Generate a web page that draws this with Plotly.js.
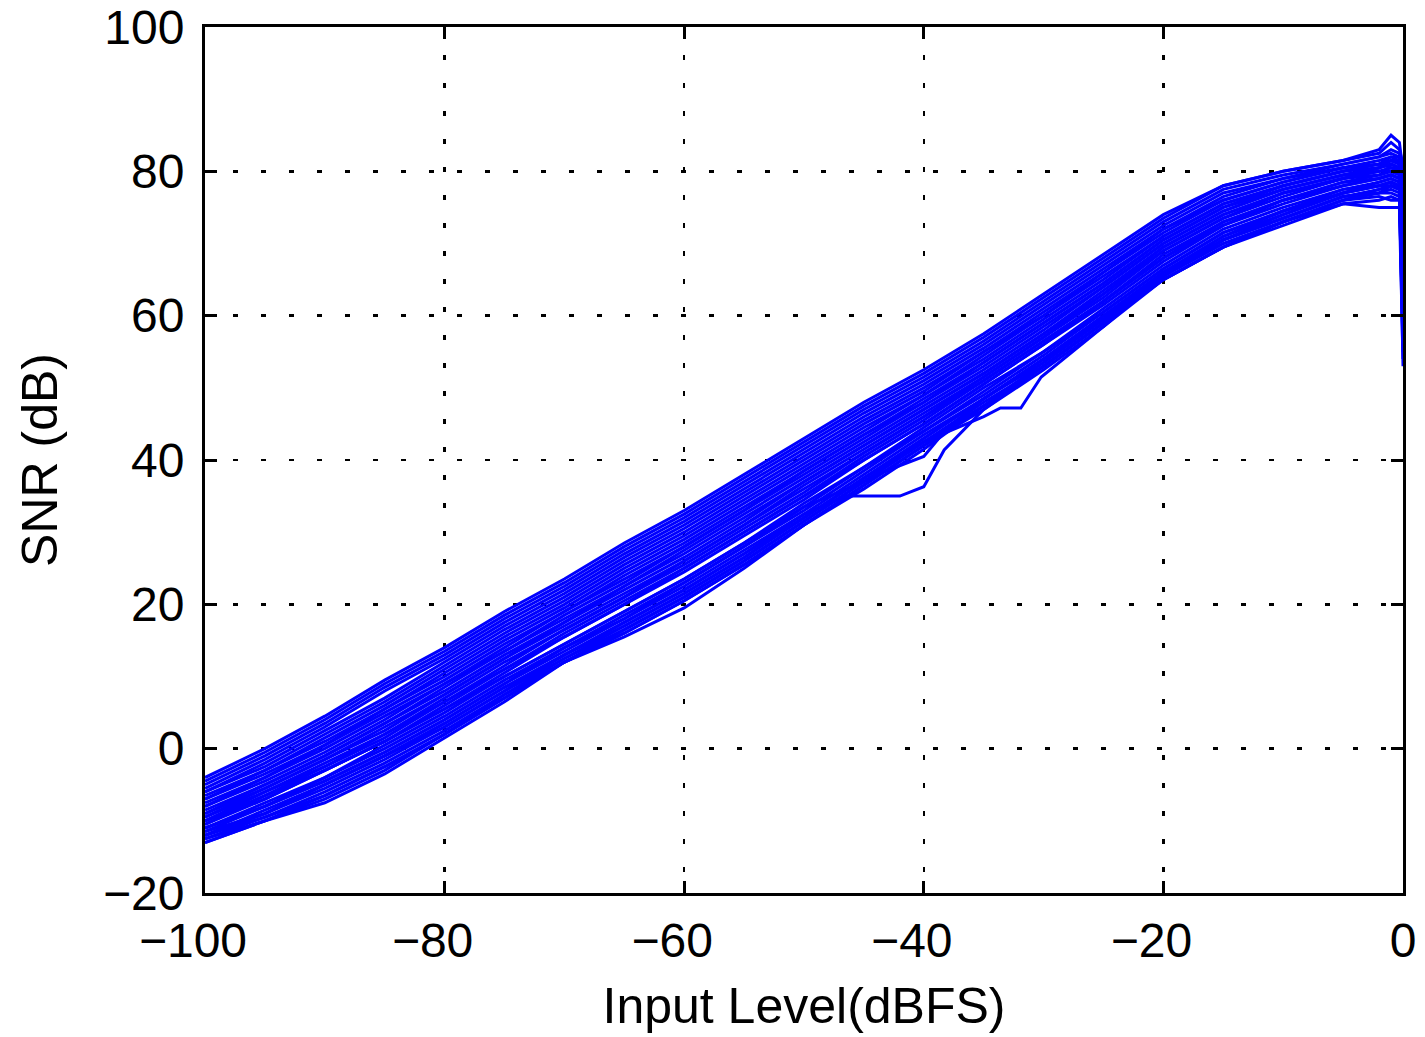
<!DOCTYPE html>
<html>
<head>
<meta charset="utf-8">
<script src="https://cdn.plot.ly/plotly-3.0.1.min.js"></script>
<style>
html,body{margin:0;padding:0;background:#fff;}
#chart{width:1425px;height:1037px;}
</style>
</head>
<body>
<div id="chart"></div>
<script>
// Input level grid (dBFS)
const xGrid = [-100,-95,-90,-85,-80,-75,-70,-65,-60,-55,-50,-45,-40,-35,-30,-25,-20,-15,-10,-5,-2,-1,-0.3,0];

// Axis ticks
const xTickVals = [-100,-80,-60,-40,-20,0];
const xTickText = ['\u2212100','\u221280','\u221260','\u221240','\u221220','0'];

// SNR (dB) curves, one per measured channel
const snr01 = [-4,0,4.5,9.5,14,19,23.5,28.5,33,38,43,48,52.5,57.5,63,68.5,74,78,80,81.5,83,85,84,80];
const snr02 = [-5,-1,3.5,8.5,13,18,22.5,27.5,32,37,42,47,51.5,56.5,62,67.5,73,77.5,79.5,81,82,83,82.5,78];
const snr03 = [-6,-2,2.5,7,12,17,21.5,26.5,31,36,41,46,50.5,55.5,61,66.5,72,76.5,79,80.5,81.5,82,82,70];
const snr04 = [-6.5,-3,1.5,6,11,16,20.5,25.5,30,35,40,45,49.5,55,60,66,71.5,76,78.5,80.5,81,81.5,81,62];
const snr05 = [-7,-3.5,0.5,5.5,10,15,19.5,24.5,29,34,39,44,49,54,59.5,65,71,75.5,78,80,80.5,81,80.5,75];
const snr06 = [-8,-4,0,4.5,9,14,19,23.5,28,33,38.5,43.5,48,53.5,59,64.5,70.5,75,78,80,81,82,81.5,58];
const snr07 = [-8.5,-5,-1,3.5,8.5,13.5,18,22.5,27.5,32.5,37.5,42.5,47.5,52.5,58,64,70,74.5,77.5,79.5,80,80.5,80,66];
const snr08 = [-9,-5.5,-1.5,3,7.5,12.5,17.5,22,26.5,31.5,37,42,47,52,57.5,63,69.5,74,77,79,80.5,81,80.5,72];
const snr09 = [-9.5,-6,-2,2,7,12,16.5,21,26,31,36,41,46,51.5,57,62.5,69,73.5,76.5,79,79.5,80,79.5,55];
const snr10 = [-10,-6.5,-2.5,1.5,6.5,11,16,20.5,25,30,35,40.5,45.5,51,56.5,62,68,73,76,78.5,79.5,80,80,68];
const snr11 = [-10.5,-7,-3,1,5.5,10.5,15.5,20,24.5,29.5,34.5,40,45,50.5,56,61.5,67.5,72.5,75.5,78,79,79.5,79,60];
const snr12 = [-11,-7.5,-4,0.5,5,10,14.5,19,23.5,28.5,34,39,44.5,50,55,61,67,72,75,77.5,78.5,79,78.5,64];
const snr13 = [-11.5,-8,-4.5,-0.5,4,9,14,18,23,28,33,38.5,44,49,54.5,60.5,66.5,71.5,74.5,77,78,78.5,78,53];
const snr14 = [-12,-8.5,-5,-1,3.5,8.5,13,17.5,22,27,32.5,38,43.5,48.5,54,60,66,71,74,77,78,78,77.5,70];
const snr15 = [-12,-9,-5.5,-1.5,3,8,12.5,17,21.5,26.5,32,37.5,43,48.5,53.5,59.5,65.5,70.5,73.5,76.5,77,77.5,77,57];
const snr16 = [-12.5,-9.5,-6,-2,2.5,7.5,12,16.5,21,26,31.5,37,42.5,48,53,59,65.5,70,73,76,77.5,78,77.5,62];
const snr17 = [-13,-10,-7,-3,2,7,12,16,20.5,25.5,31,36,41.5,47.5,53,59,65,69.5,73,76,76.5,76,76,66];
const snr18 = [-12.5,-10,-7.5,-3.5,1.5,6.5,12,15.5,19.5,25,31,36.5,42,47,52.5,58.5,65,69.5,72.5,75.5,75,75,75,54];
const snr19 = [-4.5,-0.5,4,9,13.5,18.5,23,28,32.5,37.5,42.5,47.5,52,57,62.5,68,73.5,78,80,81.5,82.5,84,83,81];
const snr20 = [-5.5,-1.5,3,8,12.5,17.5,22,27,31.5,36.5,41.5,46.5,51,56,61.5,67,72.5,77,79,81,82,82.5,82,74];
const snr21 = [-6,-2.5,2,6.5,11.5,16.5,21,26,30.5,35.5,40.5,45.5,50,55,60.5,66,72,76,78.5,80.5,81,81.5,81.5,67];
const snr22 = [-7,-3,1,5.5,10.5,15.5,20,25,29.5,34.5,39.5,44.5,49,54.5,60,65.5,71,75.5,78,80,81,80.5,80.5,79];
const snr23 = [-7.5,-4,0.5,5,9.5,14.5,19,24,28.5,33.5,38.5,43.5,48.5,53.5,59,64.5,70.5,75,77.5,79.5,80.5,81.5,81,63];
const snr24 = [-8,-4.5,-0.5,4,9,13.5,18.5,23,28,33,38,43,48,53,58.5,64,70,74.5,77.5,79.5,80.5,81,80.5,71];
const snr25 = [-9,-5,-1,3.5,8,13,17.5,22.5,27,32,37,42,47,52,57.5,63.5,69.5,74,77,79,80,80,79.5,57];
const snr26 = [-9.5,-5.5,-1.5,2.5,7.5,12.5,17,21.5,26,31,36.5,41.5,46.5,51.5,57,63,69,73.5,77,79,80,80.5,80,76];
const snr27 = [-10,-6,-2.5,2,6.5,11.5,16.5,21,25.5,30.5,35.5,41,46,51,56.5,62,68.5,73,76,78.5,79,79.5,79,61];
const snr28 = [-10.5,-6.5,-3,1,6,11,15.5,20,25,30,35,40,45,50.5,56,62,68,72.5,76,78,79,79.5,79,73];
const snr29 = [-11,-8,-4,0,4.5,9.5,14,18.5,23,28,33.5,39,44,49.5,55,60.5,66.5,71.5,74.5,77.5,78,78.5,78,67];
const snr30 = [-12,-9,-5,-1,3,8,13,17,21.5,26.5,32,37.5,43,48.5,54,59.5,66,70.5,73.5,76.5,77,78,77.5,59];
const snr31 = [-13,-10,-6.5,-2.5,2,7,12,16,20.5,25.5,31,36.5,42,47.5,53,59,65,69.5,73,75.5,76,76.5,76,72];
const snr32 = [-12,-9.5,-6.5,-2.5,2,7.5,12.5,16.5,21,26,31.5,37,42.5,47.5,53.5,59.5,65.5,70,73,76,77,77,76.5,56];

// Channels with irregular steps around -45 .. -30 dBFS
const xOut1 = [-100,-95,-90,-85,-80,-75,-70,-65,-60,-55,-50,-46.5,-42,-40,-38.3,-35,-30,-25,-20,-15,-10,-5,-2,-1,-0.3,0];
const snrOut1 = [-11,-8,-4.5,-0.5,4,9,13.5,18,22.5,27.5,32.5,35,35,36.3,41.4,47,53,59,65.5,70.5,73.5,76.5,77.5,78,78,61];
const xOut2 = [-100,-95,-90,-85,-80,-75,-70,-65,-60,-55,-50,-45,-43.6,-40,-38,-35,-30,-25,-20,-15,-10,-5,-2,-1,-0.3,0];
const snrOut2 = [-10,-7,-3,1,5.5,10,14.5,19,23.5,28.5,33.5,37,38.2,40.5,44.5,48.5,54,60,66,71,74.5,77,78.5,79,78.5,59];
const xOut3 = [-100,-95,-90,-85,-80,-75,-70,-65,-60,-55,-50,-45,-40,-35,-33.6,-31.9,-30.2,-25,-20,-15,-10,-5,-2,-1,-0.3,0];
const snrOut3 = [-11.5,-9,-5,-1,3.5,8.5,13,17.5,22,27,32,37.5,42.5,46,47.2,47.2,51.5,58.5,65.5,70.5,74,77,78,78.5,78,65];

const curves = [snr01,snr02,snr03,snr04,snr05,snr06,snr07,snr08,snr09,snr10,snr11,snr12,snr13,snr14,snr15,snr16,
                snr17,snr18,snr19,snr20,snr21,snr22,snr23,snr24,snr25,snr26,snr27,snr28,snr29,snr30,snr31,snr32];
const lineStyle = {color:'#0000ff', width:3};
const traces = curves.map(y => ({x:xGrid, y:y, type:'scatter', mode:'lines', line:lineStyle}));
traces.push({x:xOut1, y:snrOut1, type:'scatter', mode:'lines', line:lineStyle});
traces.push({x:xOut2, y:snrOut2, type:'scatter', mode:'lines', line:lineStyle});
traces.push({x:xOut3, y:snrOut3, type:'scatter', mode:'lines', line:lineStyle});

// digits centred on the tick, minus sign hanging to the left (as in the source figure)
const xTickShown = xTickText.map(t => t.startsWith('\u2212') ? t + '\u2002' : t);

const fontFam = 'Liberation Sans, Arial, Helvetica, sans-serif';
const axisCommon = {
  showline:true, mirror:'ticks', linecolor:'#000', linewidth:3,
  ticks:'inside', ticklen:12, tickwidth:3, tickcolor:'#000',
  showgrid:true, gridcolor:'#000', gridwidth:2.5, griddash:'5px,23px',
  zeroline:false, tickfont:{family:fontFam, size:48, color:'#000'}
};
const layout = {
  width:1425, height:1037,
  margin:{l:205, r:22, t:27, b:144},
  paper_bgcolor:'#fff', plot_bgcolor:'#fff',
  showlegend:false,
  xaxis:Object.assign({}, axisCommon, {range:[-100,0], tickmode:'array', tickvals:xTickVals, ticktext:xTickShown,
    ticklabelstandoff:3,
    title:{text:'Input Level(dBFS)', font:{family:fontFam, size:50, color:'#000'}, standoff:23}}),
  yaxis:Object.assign({}, axisCommon, {range:[-20,100], tick0:-20, dtick:20, ticklabelstandoff:8,
    title:{text:'SNR (dB)', font:{family:fontFam, size:50, color:'#000'}, standoff:30}})
};
Plotly.newPlot('chart', traces, layout, {staticPlot:true, displayModeBar:false});
</script>
</body>
</html>
